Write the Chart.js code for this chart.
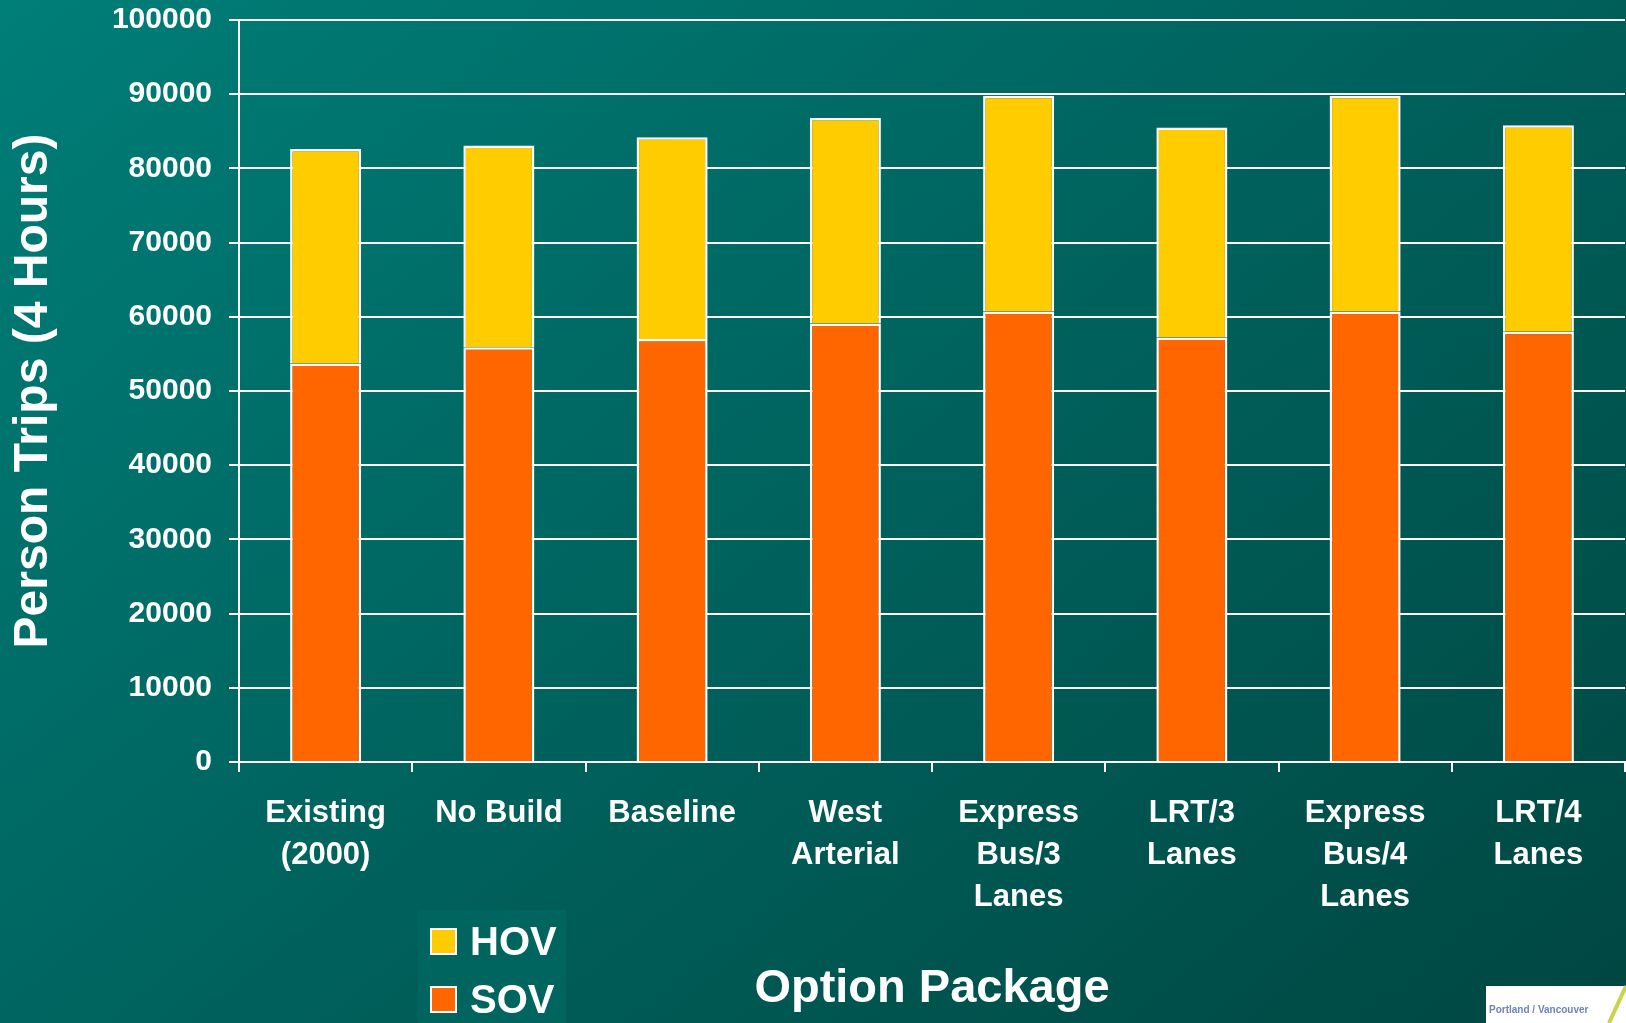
<!DOCTYPE html>
<html>
<head>
<meta charset="utf-8">
<script src="https://cdn.jsdelivr.net/npm/chart.js@4/dist/chart.umd.min.js"></script>
<style>
  html, body { margin: 0; padding: 0; }
  body { width: 1626px; height: 1023px; overflow: hidden;
         background: linear-gradient(141deg, #007e78 0%, #005f5a 55%, #004641 100%); }
  canvas { display: block; }
</style>
</head>
<body>
<canvas id="c" width="1626" height="1023"></canvas>
<script>
// ---- data ----
const categories = [
  ["Existing", "(2000)"],
  ["No Build"],
  ["Baseline"],
  ["West", "Arterial"],
  ["Express", "Bus/3", "Lanes"],
  ["LRT/3", "Lanes"],
  ["Express", "Bus/4", "Lanes"],
  ["LRT/4", "Lanes"]
];
const sovValues = [53700, 55900, 57000, 59100, 60700, 57200, 60700, 58000];
const hovValues = [28900, 27200, 27200, 27700, 29100, 28300, 29100, 27800];
const yTickValues = [0, 10000, 20000, 30000, 40000, 50000, 60000, 70000, 80000, 90000, 100000];
const yAxisTitle = "Person Trips (4 Hours)";
const xAxisTitle = "Option Package";
const logoText = "Portland / Vancouver";

const FONT = "'Liberation Sans', Arial, Helvetica, sans-serif";

// custom legend (vertical, boxed) drawn from dataset definitions
const legendPlugin = {
  id: 'boxLegend',
  afterDraw(chart) {
    const ctx = chart.ctx;
    ctx.save();
    ctx.fillStyle = '#00655f';
    ctx.fillRect(418, 910, 148, 113);
    const items = chart.data.datasets.slice().reverse();
    items.forEach((ds, i) => {
      const y = 929 + i * 58;
      ctx.fillStyle = ds.backgroundColor;
      ctx.fillRect(431, y, 25, 25);
      ctx.strokeStyle = '#ffffff';
      ctx.lineWidth = 2;
      ctx.strokeRect(431, y, 25, 25);
      ctx.fillStyle = '#ffffff';
      ctx.font = "bold 40px " + FONT;
      ctx.textBaseline = 'alphabetic';
      ctx.textAlign = 'left';
      ctx.fillText(ds.label, 470, y + 26);
    });
    // partial logo in bottom-right corner
    ctx.fillStyle = '#ffffff';
    ctx.fillRect(1486, 986, 140, 37);
    ctx.fillStyle = '#7083b8';
    ctx.font = "bold 10px " + FONT;
    ctx.fillText(logoText, 1489, 1013);
    ctx.strokeStyle = '#c9d34a';
    ctx.lineWidth = 4;
    ctx.beginPath();
    ctx.moveTo(1609, 1023);
    ctx.lineTo(1626, 986);
    ctx.stroke();
    ctx.restore();
  }
};

new Chart(document.getElementById('c'), {
  type: 'bar',
  data: {
    labels: categories,
    datasets: [
      { label: 'SOV', data: sovValues, backgroundColor: '#ff6600', borderColor: '#ffffff', borderWidth: 2.5,
        barPercentage: 0.41, categoryPercentage: 1.0 },
      { label: 'HOV', data: hovValues, backgroundColor: '#ffcc00', borderColor: '#ffffff', borderWidth: 2.5,
        barPercentage: 0.41, categoryPercentage: 1.0 }
    ]
  },
  options: {
    responsive: false,
    animation: false,
    layout: { padding: { top: 20, right: 1, left: 0, bottom: 0 } },
    plugins: {
      legend: { display: false },
      tooltip: { enabled: false },
      title: { display: false }
    },
    scales: {
      x: {
        stacked: true,
        offset: true,
        grid: { display: true, drawOnChartArea: false, drawTicks: true, tickLength: 10,
                color: '#ffffff', lineWidth: 2, offset: true },
        border: { display: true, color: '#ffffff', width: 2 },
        ticks: { color: '#ffffff', padding: 21, maxRotation: 0, autoSkip: false,
                 font: { family: FONT, size: 31, weight: 'bold', lineHeight: 1.35 } },
        title: { display: true, text: xAxisTitle, color: '#ffffff', padding: { top: 0, bottom: 6 },
                 font: { family: FONT, size: 47, weight: 'bold', lineHeight: 1.2 } },
        afterFit(scale) { scale.height = 261; scale.paddingLeft = 0; scale.paddingRight = 0; }
      },
      y: {
        stacked: true,
        min: 0,
        max: 100000,
        afterBuildTicks(scale) { scale.ticks = yTickValues.map(v => ({ value: v })); },
        grid: { color: '#ffffff', lineWidth: 2, drawTicks: true, tickLength: 10 },
        border: { display: true, color: '#ffffff', width: 2 },
        ticks: { color: '#ffffff', padding: 17,
                 callback: (v) => String(v),
                 font: { family: FONT, size: 30, weight: 'bold' } },
        title: { display: true, text: yAxisTitle, color: '#ffffff', padding: { top: 5, bottom: 0 },
                 font: { family: FONT, size: 48, weight: 'bold', lineHeight: 1.2 } },
        afterFit(scale) { scale.width = 239; scale.paddingTop = 0; scale.paddingBottom = 0; }
      }
    }
  },
  plugins: [legendPlugin]
});
</script>
</body>
</html>
